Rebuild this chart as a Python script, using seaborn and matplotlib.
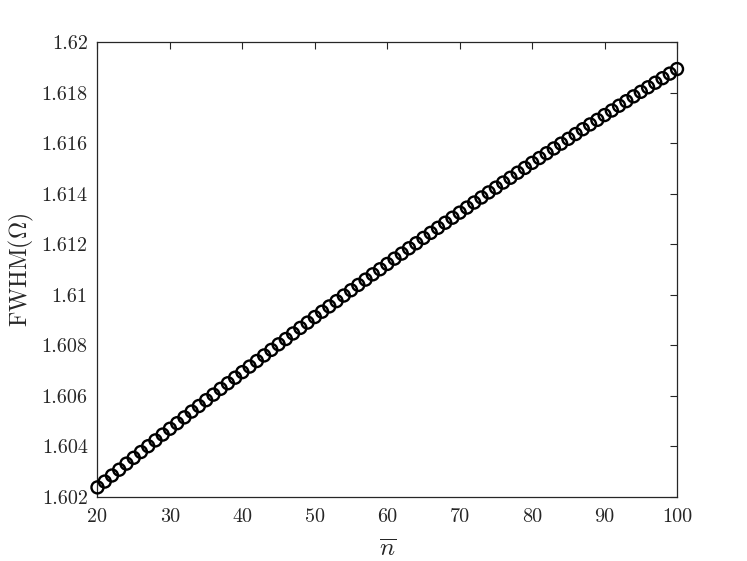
import matplotlib
matplotlib.use("Agg")
import matplotlib.pyplot as plt
from matplotlib.ticker import FuncFormatter, MultipleLocator
import seaborn as sns
import pandas as pd

# mean photon number n-bar, 20..100
n_bar = list(range(20, 101))

# FWHM(Omega)
fwhm = [
    1.60238, 1.60261, 1.60285, 1.60308, 1.60332, 1.60355, 1.60378, 1.60401, 1.60424, 1.60447,
    1.60470, 1.60492, 1.60515, 1.60538, 1.60560, 1.60583, 1.60605, 1.60628, 1.60650, 1.60672,
    1.60694, 1.60716, 1.60738, 1.60760, 1.60782, 1.60804, 1.60825, 1.60847, 1.60869, 1.60890,
    1.60912, 1.60933, 1.60954, 1.60975, 1.60997, 1.61018, 1.61039, 1.61060, 1.61081, 1.61101,
    1.61122, 1.61143, 1.61163, 1.61184, 1.61204, 1.61225, 1.61245, 1.61265, 1.61285, 1.61305,
    1.61325, 1.61345, 1.61365, 1.61385, 1.61405, 1.61424, 1.61444, 1.61463, 1.61483, 1.61502,
    1.61522, 1.61541, 1.61560, 1.61579, 1.61598, 1.61617, 1.61636, 1.61655, 1.61674, 1.61692,
    1.61711, 1.61729, 1.61748, 1.61766, 1.61785, 1.61803, 1.61821, 1.61839, 1.61857, 1.61875,
    1.61893,
]

df = pd.DataFrame({"n": n_bar, "fwhm": fwhm})

sns.set_style("white")
plt.rcParams["font.family"] = ["serif"]
plt.rcParams["font.serif"] = ["cmr10", "DejaVu Serif"]
plt.rcParams["mathtext.fontset"] = "cm"
plt.rcParams["axes.unicode_minus"] = False

fig = plt.figure(figsize=(7.47, 5.61), dpi=100)
ax = fig.add_axes([0.1305, 0.1141, 0.7758, 0.8110])

sns.scatterplot(data=df, x="n", y="fwhm", ax=ax, marker="o", s=75,
                facecolors="none", edgecolors="black", linewidth=1.7,
                clip_on=False, zorder=3)

ax.set_xlim(20, 100)
ax.set_ylim(1.602, 1.62)
ax.xaxis.set_major_locator(MultipleLocator(10))
ax.yaxis.set_major_locator(MultipleLocator(0.002))
ax.yaxis.set_major_formatter(FuncFormatter(lambda v, p: f"{v:g}"))
ax.xaxis.set_major_formatter(FuncFormatter(lambda v, p: f"{v:g}"))

ax.tick_params(direction="in", length=5, width=0.8, color="#262626",
               top=True, right=True, labelsize=14.5, labelcolor="#262626")
ax.tick_params(axis="x", pad=8)
ax.tick_params(axis="y", pad=7)
for s in ax.spines.values():
    s.set_color("#262626")
    s.set_linewidth(0.9)

ax.set_xlabel(r"$\overline{n}$", fontsize=18, color="#262626", labelpad=9)
ax.set_ylabel(r"$\mathrm{FWHM}(\Omega)$", fontsize=17, color="#262626", labelpad=4)

fig.savefig("out.png", dpi=100)
